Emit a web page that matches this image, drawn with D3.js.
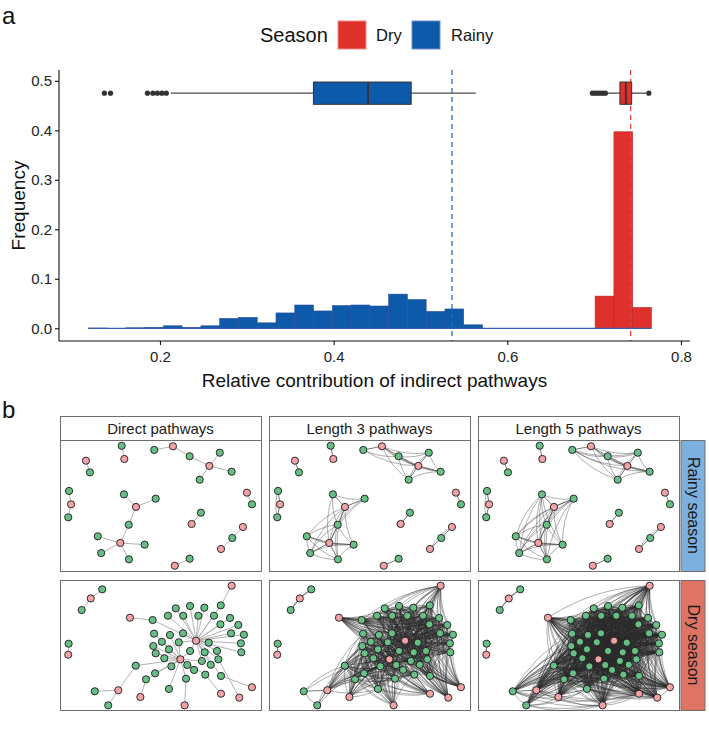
<!DOCTYPE html>
<html><head><meta charset="utf-8">
<script src="https://cdn.jsdelivr.net/npm/d3@7"></script>
<style>body{margin:0;background:#fff} svg{display:block;font-family:"Liberation Sans",Arial,Helvetica,sans-serif}</style>
</head><body><svg id="chart" width="709" height="730"></svg>
<script>
// ---------------- DATA: panel a ----------------
const seasons = ["Dry", "Rainy"];
const seasonFill = {Dry: "#e0302b", Rainy: "#0d5aaa"};
const seasonLine = {Dry: "#b52a2a", Rainy: "#2f4f9c"};
const binStart = 0.1174;
const binWidth = 0.02162;
const rainyFreq = [0.0005,0,0.001,0.002,0.005,0.002,0.005,0.020,0.022,0.011,0.031,0.047,0.035,0.046,0.047,0.045,0.069,0.058,0.034,0.039,0.007,0,0,0,0,0,0,0,0,0];
const dryFreq   = [0,0,0,0,0,0,0,0,0,0,0,0,0,0,0,0,0,0,0,0,0,0,0,0,0,0,0,0.065,0.397,0.042];
const boxSeasons = ["Rainy", "Dry"];
const boxQ1 = [0.3767, 0.7297];
const boxMedian = [0.4397, 0.7365];
const boxQ3 = [0.4893, 0.7432];
const boxWhiskerLow = [0.2125, 0.7155];
const boxWhiskerHigh = [0.5637, 0.7600];
const boxOutliers = [[0.136, 0.143, 0.1856, 0.1918, 0.197, 0.2022, 0.2073],
                     [0.698, 0.701, 0.704, 0.707, 0.710, 0.713, 0.763]];
const boxLevel = 0.475, boxHalf = 0.0225;
const refLines = [0.5363, 0.7420];          // Rainy, Dry dashed lines
const refSeasons = ["Rainy", "Dry"];
const xTicks = [0.2, 0.4, 0.6, 0.8];
const yTicks = [0, 0.1, 0.2, 0.3, 0.4, 0.5];

// ---------------- DATA: panel b ----------------
const colLabels = ["Direct pathways", "Length 3 pathways", "Length 5 pathways"];
const colLengths = [1, 3, 5];
const rowLabels = ["Rainy season", "Dry season"];
const rowStripFill = ["#7db0dd", "#e07464"];
const nodeFill = {P: "#f2a3a8", G: "#68be86"};

const rainyNodes = [
 ["r1",0.307,0.044,"G"],["r2",0.320,0.145,"P"],["r3",0.129,0.158,"P"],["r4",0.149,0.247,"G"],
 ["r5",0.469,0.076,"G"],["r6",0.562,0.048,"P"],["r7",0.645,0.124,"G"],["r8",0.743,0.198,"P"],
 ["r9",0.795,0.097,"G"],["r10",0.854,0.242,"G"],["r11",0.695,0.303,"G"],["r12",0.045,0.389,"G"],
 ["r13",0.055,0.491,"P"],["r14",0.041,0.590,"G"],["r15",0.318,0.415,"G"],["r16",0.476,0.448,"G"],
 ["r17",0.378,0.511,"P"],["r18",0.342,0.647,"G"],["r19",0.300,0.786,"P"],["r20",0.188,0.735,"G"],
 ["r21",0.421,0.799,"G"],["r22",0.205,0.863,"G"],["r23",0.343,0.911,"G"],["r24",0.930,0.402,"P"],
 ["r25",0.955,0.491,"G"],["r26",0.701,0.555,"G"],["r27",0.655,0.641,"P"],["r28",0.910,0.664,"P"],
 ["r29",0.857,0.748,"G"],["r30",0.801,0.832,"P"],["r31",0.645,0.906,"G"],["r32",0.571,0.960,"P"]
];
const rainyEdges = [
 ["r1","r2"],["r3","r4"],["r5","r6"],["r6","r7"],["r7","r8"],["r8","r9"],["r8","r10"],["r8","r11"],
 ["r12","r13"],["r13","r14"],["r15","r17"],["r16","r17"],["r17","r18"],["r18","r19"],["r19","r20"],
 ["r19","r21"],["r19","r22"],["r19","r23"],["r24","r25"],["r26","r27"],["r28","r29"],["r29","r30"],["r31","r32"]
];

const dryNodes = [
 ["d1",0.210,0.072,"G"],["d2",0.153,0.142,"P"],["d3",0.108,0.231,"G"],["d4",0.854,0.044,"P"],
 ["d5",0.348,0.290,"P"],["d6",0.461,0.308,"G"],["d7",0.576,0.218,"G"],["d8",0.647,0.200,"G"],
 ["d9",0.718,0.213,"G"],["d10",0.800,0.195,"G"],["d11",0.537,0.275,"G"],["d12",0.613,0.275,"G"],
 ["d13",0.688,0.275,"G"],["d14",0.766,0.275,"G"],["d15",0.846,0.292,"G"],["d16",0.798,0.341,"G"],
 ["d17",0.887,0.346,"G"],["d18",0.468,0.413,"G"],["d19",0.547,0.423,"G"],["d20",0.612,0.410,"G"],
 ["d21",0.851,0.410,"G"],["d22",0.915,0.421,"G"],["d23",0.507,0.475,"G"],["d24",0.591,0.479,"G"],
 ["h1",0.677,0.467,"P"],["d25",0.740,0.482,"G"],["d26",0.900,0.487,"G"],["d27",0.464,0.508,"G"],
 ["d28",0.542,0.533,"G"],["d29",0.647,0.546,"G"],["d30",0.720,0.556,"G"],["d31",0.781,0.546,"G"],
 ["d32",0.902,0.556,"G"],["d33",0.476,0.564,"G"],["d34",0.519,0.602,"G"],["h2",0.599,0.610,"P"],
 ["d35",0.706,0.623,"G"],["d36",0.788,0.610,"G"],["d37",0.377,0.659,"G"],["d38",0.554,0.664,"G"],
 ["d39",0.633,0.654,"G"],["d40",0.667,0.692,"G"],["d41",0.750,0.652,"G"],["d42",0.473,0.718,"G"],
 ["d43",0.428,0.764,"G"],["d44",0.723,0.728,"G"],["d45",0.801,0.738,"G"],["d46",0.627,0.759,"G"],
 ["d47",0.043,0.490,"G"],["d48",0.041,0.575,"P"],["d49",0.173,0.856,"G"],["d50",0.290,0.848,"P"],
 ["d51",0.240,0.964,"G"],["d52",0.400,0.900,"P"],["d53",0.542,0.838,"G"],["d54",0.620,0.964,"P"],
 ["d55",0.801,0.875,"P"],["d56",0.892,0.905,"P"],["d57",0.955,0.825,"P"]
];
const dryHub1Partners = ["d6","d7","d8","d9","d10","d11","d12","d13","d14","d15","d16","d17","d20","d21","d22","d24","d25","d26","d29","d30","d31","d32","d35","d36","d41","d45"];
const dryHub2Partners = ["d18","d19","d23","d24","d27","d28","d29","d33","d34","d35","d37","d38","d39","d40","d42","d43","d44","d46","d53"];
const dryOtherEdges = [
 ["d1","d2"],["d2","d3"],["d4","d10"],["d5","d6"],["d47","d48"],["d49","d50"],["d50","d51"],["d50","d37"],
 ["d52","d43"],["d54","d46"],["d55","d44"],["d56","d36"],["d57","d45"]
];
const dryEdges = dryHub1Partners.map(g => ["h1", g])
  .concat(dryHub2Partners.map(g => ["h2", g]))
  .concat(dryOtherEdges);

// ---------------- DRAW ----------------
const svg = d3.select("#chart");
const FONT_DARK = "#222";

// ---- panel a ----
const x = d3.scaleLinear().domain([0.0837, 0.8104]).range([59, 690]);
const y = d3.scaleLinear().domain([-0.0257, 0.5218]).range([341, 70]);

svg.append("text").attr("x", 2).attr("y", 24).attr("font-size", 24).attr("fill", "#111").text("a");

// legend
const leg = svg.append("g");
leg.append("text").attr("x", 260).attr("y", 42).attr("font-size", 20).attr("fill", "#111").text("Season");
const legX = [338, 412], legTX = [376, 451];
seasons.forEach((s, i) => {
  leg.append("rect").attr("x", legX[i]).attr("y", 21).attr("width", 28).attr("height", 28)
    .attr("fill", seasonFill[s]).attr("stroke", s === "Dry" ? "#f08a8a" : "#6f8fd0").attr("stroke-width", 1);
  leg.append("text").attr("x", legTX[i]).attr("y", 41).attr("font-size", 16.5).attr("fill", "#111").text(s);
});

// histogram bars
const bins = rainyFreq.map((v, i) => ({x0: binStart + i * binWidth, x1: binStart + (i + 1) * binWidth, rainy: v, dry: dryFreq[i]}));
const gh = svg.append("g");
gh.selectAll("rect.rainy").data(bins.filter(b => b.rainy > 0)).join("rect")
  .attr("x", b => x(b.x0)).attr("width", b => x(b.x1) - x(b.x0))
  .attr("y", b => y(b.rainy)).attr("height", b => y(0) - y(b.rainy))
  .attr("fill", seasonFill.Rainy).attr("stroke", seasonLine.Rainy).attr("stroke-width", 0.6);
gh.selectAll("rect.dry").data(bins.filter(b => b.dry > 0)).join("rect")
  .attr("x", b => x(b.x0)).attr("width", b => x(b.x1) - x(b.x0))
  .attr("y", b => y(b.rainy + b.dry)).attr("height", b => y(b.rainy) - y(b.rainy + b.dry))
  .attr("fill", seasonFill.Dry).attr("stroke", seasonLine.Dry).attr("stroke-width", 0.6);
gh.append("line").attr("x1", x(binStart)).attr("x2", x(binStart + bins.length * binWidth))
  .attr("y1", y(0)).attr("y2", y(0)).attr("stroke", "#3b5fb0").attr("stroke-width", 1.2);

// dashed reference lines
refLines.forEach((v, i) => {
  svg.append("line").attr("x1", x(v)).attr("x2", x(v)).attr("y1", y.range()[1]).attr("y2", y.range()[0])
    .attr("stroke", refSeasons[i] === "Rainy" ? "#2b6cb8" : "#e2403a").attr("stroke-width", 1.3)
    .attr("stroke-dasharray", "5,4");
});

// boxplots
boxSeasons.forEach((s, i) => {
  const g = svg.append("g");
  const yc = y(boxLevel);
  g.append("line").attr("x1", x(boxWhiskerLow[i])).attr("x2", x(boxQ1[i])).attr("y1", yc).attr("y2", yc).attr("stroke", "#4a4a4a").attr("stroke-width", 1.3);
  g.append("line").attr("x1", x(boxQ3[i])).attr("x2", x(boxWhiskerHigh[i])).attr("y1", yc).attr("y2", yc).attr("stroke", "#4a4a4a").attr("stroke-width", 1.3);
  g.append("rect").attr("x", x(boxQ1[i])).attr("width", x(boxQ3[i]) - x(boxQ1[i]))
    .attr("y", y(boxLevel + boxHalf)).attr("height", y(boxLevel - boxHalf) - y(boxLevel + boxHalf))
    .attr("fill", seasonFill[s]).attr("stroke", "#333").attr("stroke-width", 1);
  g.append("line").attr("x1", x(boxMedian[i])).attr("x2", x(boxMedian[i]))
    .attr("y1", y(boxLevel + boxHalf)).attr("y2", y(boxLevel - boxHalf)).attr("stroke", "#333").attr("stroke-width", 1.8);
  g.selectAll("circle").data(boxOutliers[i]).join("circle")
    .attr("cx", d => x(d)).attr("cy", yc).attr("r", 2.6).attr("fill", "#333");
});

// axes
const ax = svg.append("g").attr("transform", `translate(0,${y.range()[0]})`)
  .call(d3.axisBottom(x).tickValues(xTicks).tickFormat(d3.format(".1f")).tickSize(4).tickSizeOuter(0));
const ay = svg.append("g").attr("transform", `translate(${x.range()[0]},0)`)
  .call(d3.axisLeft(y).tickValues(yTicks).tickFormat(d3.format(".1f")).tickSize(4).tickSizeOuter(0));
[ax, ay].forEach(a => {
  a.select(".domain").attr("stroke", "#111").attr("stroke-width", 1.1);
  a.selectAll(".tick line").attr("stroke", "#111").attr("stroke-width", 1.1);
  a.selectAll(".tick text").attr("font-size", 15).attr("fill", FONT_DARK).attr("font-family", null);
});
ax.selectAll(".tick text").attr("dy", "0.95em");
ay.select(".domain").attr("d", `M0,${y.range()[1]}V${y.range()[0]}`);
ax.select(".domain").attr("d", `M${x.range()[0]},0H${x.range()[1]}`);

svg.append("text").attr("x", (x.range()[0] + x.range()[1]) / 2).attr("y", 387).attr("text-anchor", "middle")
  .attr("font-size", 19).attr("fill", "#111").text("Relative contribution of indirect pathways");
svg.append("text").attr("transform", `translate(25,${(y.range()[0] + y.range()[1]) / 2}) rotate(-90)`)
  .attr("text-anchor", "middle").attr("font-size", 19).attr("fill", "#111").text("Frequency");

// ---- panel b ----
svg.append("text").attr("x", 2).attr("y", 418).attr("font-size", 24).attr("fill", "#111").text("b");

const colX = [60, 269, 478], colW = 201;
const rowY = [440, 580], rowH = [131, 130];
const stripTop = 416, stripH = 24;
const rStripX = 681, rStripW = 24;

function distances(nodes, edges) {
  const ids = nodes.map(n => n[0]);
  const adj = new Map(ids.map(id => [id, []]));
  edges.forEach(([a, b]) => { adj.get(a).push(b); adj.get(b).push(a); });
  const dist = new Map();
  ids.forEach(src => {
    const d = new Map([[src, 0]]); const q = [src];
    while (q.length) { const u = q.shift(); adj.get(u).forEach(v => { if (!d.has(v)) { d.set(v, d.get(u) + 1); q.push(v); } }); }
    dist.set(src, d);
  });
  return dist;
}

const rowsData = [{nodes: rainyNodes, edges: rainyEdges}, {nodes: dryNodes, edges: dryEdges}];

// column strips
colLabels.forEach((lab, c) => {
  svg.append("rect").attr("x", colX[c] + 0.5).attr("y", stripTop + 0.5).attr("width", colW).attr("height", stripH)
    .attr("fill", "#fff").attr("stroke", "#6e6e6e").attr("stroke-width", 1);
  svg.append("text").attr("x", colX[c] + colW / 2).attr("y", stripTop + stripH / 2 + 5.5).attr("text-anchor", "middle")
    .attr("font-size", 15).attr("fill", "#1a1a1a").text(lab);
});

rowsData.forEach((row, r) => {
  const dist = distances(row.nodes, row.edges);
  // row strip
  svg.append("rect").attr("x", rStripX).attr("y", rowY[r] + 0.5).attr("width", rStripW).attr("height", rowH[r])
    .attr("fill", rowStripFill[r]).attr("stroke", "#6e6e6e").attr("stroke-width", 1);
  svg.append("text").attr("transform", `translate(${rStripX + rStripW / 2 - 5.5},${rowY[r] + rowH[r] / 2}) rotate(90)`)
    .attr("text-anchor", "middle").attr("font-size", 16).attr("fill", "#1a1a1a").text(rowLabels[r]);

  colLengths.forEach((k, c) => {
    const px = d3.scaleLinear().domain([0, 1]).range([colX[c], colX[c] + colW]);
    const py = d3.scaleLinear().domain([0, 1]).range([rowY[r], rowY[r] + rowH[r]]);
    const g = svg.append("g");
    g.append("rect").attr("x", colX[c] + 0.5).attr("y", rowY[r] + 0.5).attr("width", colW).attr("height", rowH[r])
      .attr("fill", "#fff").attr("stroke", "#6e6e6e").attr("stroke-width", 1);
    const pairs = [];
    row.nodes.forEach((a, i) => row.nodes.forEach((b, j) => {
      if (j <= i) return;
      const d = dist.get(a[0]).get(b[0]);
      if (d !== undefined && d >= 1 && d <= k) pairs.push({a, b, d});
    }));
    pairs.sort((p, q) => q.d - p.d);
    g.selectAll("path.e").data(pairs).join("path")
      .attr("d", p => {
        const x1 = px(p.a[1]), y1 = py(p.a[2]), x2 = px(p.b[1]), y2 = py(p.b[2]);
        if (p.d === 1) return `M${x1},${y1}L${x2},${y2}`;
        const mx = (x1 + x2) / 2, my = (y1 + y2) / 2, dx = x2 - x1, dy = y2 - y1;
        const bend = 0.14;
        return `M${x1},${y1}Q${mx - dy * bend},${my + dx * bend} ${x2},${y2}`;
      })
      .attr("fill", "none")
      .attr("stroke", k === 1 ? "#a9a9a9" : "#2a2a2a")
      .attr("stroke-opacity", k === 1 ? 1 : (p => p.d === 1 ? 0.7 : 0.42))
      .attr("stroke-width", k === 1 ? 0.9 : 0.9);
    g.selectAll("circle").data(row.nodes).join("circle")
      .attr("cx", n => px(n[1])).attr("cy", n => py(n[2])).attr("r", 3.6)
      .attr("fill", n => nodeFill[n[3]]).attr("stroke", "#1a1a1a").attr("stroke-width", 0.9);
  });
});
</script></body></html>
